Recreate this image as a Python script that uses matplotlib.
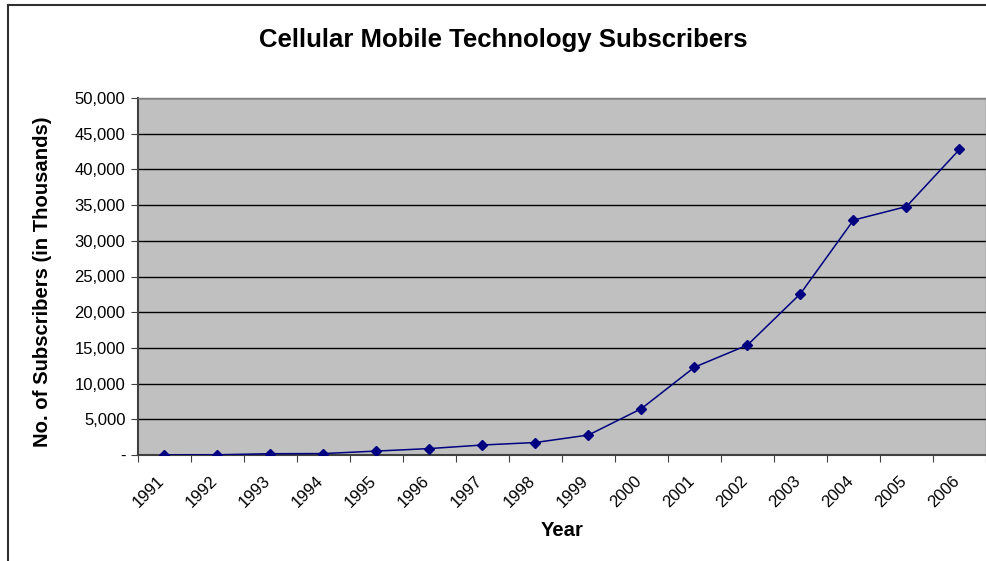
import matplotlib
matplotlib.use("Agg")
import matplotlib.pyplot as plt
from matplotlib.lines import Line2D
from matplotlib.ticker import FuncFormatter
from matplotlib.transforms import ScaledTranslation

plt.rcParams['font.family'] = ['Liberation Sans', 'DejaVu Sans']

years = ['1991', '1992', '1993', '1994', '1995', '1996', '1997', '1998',
         '1999', '2000', '2001', '2002', '2003', '2004', '2005', '2006']
subscribers = [10, 30, 180, 200, 550, 900, 1400, 1750,
               2800, 6500, 12300, 15400, 22600, 32900, 34800, 42800]
y_ticks = [0, 5000, 10000, 15000, 20000, 25000, 30000, 35000, 40000, 45000, 50000]

fig = plt.figure(figsize=(9.87, 5.61), dpi=100)
ax = fig.add_axes([138/987, 106/561, 848/987, 357/561])
ax.set_facecolor('#C0C0C0')

xs = [i + 0.5 for i in range(len(years))]
ax.plot(xs, subscribers, color='#000080', lw=1.1, marker='D', ms=5.5,
        markerfacecolor='#000080', markeredgecolor='#000080', zorder=3)

ax.set_xlim(0, len(years))
ax.set_ylim(0, 50000)
ax.set_yticks(y_ticks)
ax.yaxis.set_major_formatter(FuncFormatter(lambda v, p: '-' if v == 0 else '{:,.0f}'.format(v)))
ax.grid(axis='y', color='black', lw=1)
ax.set_axisbelow(True)

ax.set_xticks(range(len(years) + 1))
ax.set_xticklabels([])
ax.set_xticks(xs, minor=True)
ax.set_xticklabels(years, minor=True, rotation=45, ha='right', va='top',
                   rotation_mode='anchor', fontsize=12)
ax.tick_params(axis='x', which='minor', length=0, pad=13)
ax.tick_params(axis='x', which='major', length=5, color='#404040')
ax.tick_params(axis='y', length=5, color='#404040', labelsize=12, pad=4)
# nudge the rotated year labels left, like Excel does
shift = ScaledTranslation(-8/100, 0, fig.dpi_scale_trans)
for lab in ax.xaxis.get_minorticklabels():
    lab.set_transform(lab.get_transform() + shift)

for s in ['left', 'bottom']:
    ax.spines[s].set_color('#404040')
    ax.spines[s].set_linewidth(1.5)
for s in ['top', 'right']:
    ax.spines[s].set_color('#808080')
    ax.spines[s].set_linewidth(1)

fig.text(503/987, 1 - 40/561, 'Cellular Mobile Technology Subscribers',
         ha='center', va='center', fontsize=18.5, fontweight='bold')
fig.text(43/987, 1 - 282/561, 'No. of Subscribers (in Thousands)', rotation=90,
         ha='center', va='center', fontsize=14.6, fontweight='bold')
fig.text(562/987, 1 - 530/561, 'Year', ha='center', va='center', fontsize=14.6, fontweight='bold')

# chart border (top and left edges visible)
fig.add_artist(Line2D([8/987, 1.0], [1 - 5/561, 1 - 5/561], color='#303030', lw=1.5))
fig.add_artist(Line2D([8/987, 8/987], [0, 1 - 5/561], color='#303030', lw=1.5))

fig.savefig('out.png', dpi=100)
